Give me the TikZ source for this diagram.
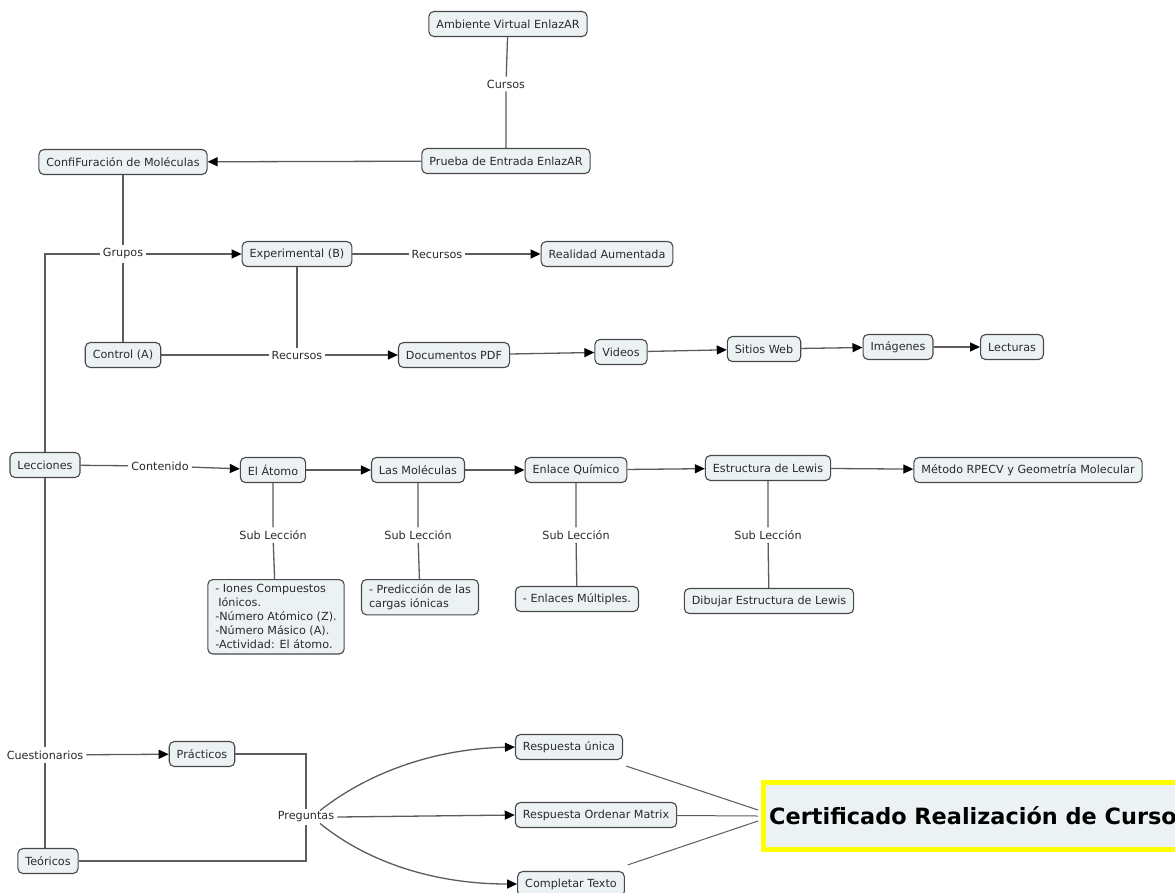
\documentclass[tikz,border=0pt]{standalone}
\usepackage{fontspec}
\setmainfont{DejaVu Sans}
\usetikzlibrary{arrows.meta,calc}
\definecolor{nodefill}{HTML}{ECF2F4}
\definecolor{nodeborder}{HTML}{484848}
\definecolor{linec}{HTML}{5C5C5C}
\definecolor{txt}{HTML}{2A2A2A}
\definecolor{certyellow}{HTML}{FFFF00}
\tikzset{
  concept/.style={draw=nodeborder, fill=nodefill, rounded corners=5pt, line width=1.1pt,
    inner xsep=7.5pt, inner ysep=0pt, minimum height=25pt, text=txt,
    font=\fontsize{11.2}{14}\selectfont},
  multi/.style={concept, align=left, inner ysep=5pt, minimum height=0pt},
  lbl/.style={inner sep=3pt, text=txt, font=\fontsize{11.2}{14}\selectfont},
  conn/.style={draw=linec, line width=1.3pt},
  arr/.style={conn, -{Triangle[length=10pt,width=9pt,color=black]}},
}
\begin{document}
\begin{tikzpicture}[x=1pt,y=-1pt]
\useasboundingbox (0,0) rectangle (1175,892);
\clip (0,0) rectangle (1175,892);
\fill[white] (0,0) rectangle (1175,892);

% top
\node[concept] (amb) at (508,24) {Ambiente Virtual EnlazAR};
\node[lbl] (cursos) at (506,84) {Cursos};
\node[concept] (prueba) at (506,161) {Prueba de Entrada EnlazAR};
\node[concept] (confi) at (123,162) {ConfiFuración de Moléculas};

% groups
\node[lbl] (grupos) at (123,254) {Grupos};
\node[concept] (exper) at (297,254) {Experimental (B)};
\node[lbl] (rec1) at (437,254) {Recursos};
\node[concept] (real) at (607,254) {Realidad Aumentada};
\node[concept] (control) at (123,355) {Control (A)};
\node[lbl] (rec2) at (297,355) {Recursos};
\node[concept] (docs) at (454,355) {Documentos PDF};
\node[concept] (videos) at (621,352) {Videos};
\node[concept] (sitios) at (764,349) {Sitios Web};
\node[concept] (imag) at (898,347) {Imágenes};
\node[concept] (lect) at (1012,347) {Lecturas};

% lessons
\node[concept] (lecc) at (45,465) {Lecciones};
\node[lbl] (cont) at (160,466) {Contenido};
\node[concept] (atomo) at (273,470) {El Átomo};
\node[concept] (molec) at (418,470) {Las Moléculas};
\node[concept] (enlace) at (576,470) {Enlace Químico};
\node[concept] (estr) at (768,468) {Estructura de Lewis};
\node[concept] (metodo) at (1028,470) {Método RPECV y Geometría Molecular};

\node[lbl] (sub1) at (273,535) {Sub Lección};
\node[lbl] (sub2) at (418,535) {Sub Lección};
\node[lbl] (sub3) at (576,535) {Sub Lección};
\node[lbl] (sub4) at (768,535) {Sub Lección};

\node[multi, anchor=north] (iones) at (276,579) {- Iones Compuestos\\\hspace*{3pt}Iónicos.\\-Número Atómico (Z).\\-Número Másico (A).\\-Actividad: El átomo.};
\node[multi, anchor=north] (pred) at (420,579) {- Predicción de las\\cargas iónicas};
\node[concept] (mult) at (577,599) {- Enlaces Múltiples.};
\node[concept] (dib) at (769,601) {Dibujar Estructura de Lewis};

% questionnaires
\node[lbl] (cuest) at (45,755) {Cuestionarios};
\node[concept] (pract) at (202,754) {Prácticos};
\node[concept] (teor) at (48,861) {Teóricos};
\node[lbl] (preg) at (306,817) {Preguntas};
\node[concept] (runica) at (569,747) {Respuesta única};
\node[concept] (rorden) at (596,815) {Respuesta Ordenar Matrix};
\node[concept] (ctexto) at (571,884) {Completar Texto};

% certificate
\node[draw=certyellow, fill=nodefill, line width=5pt, anchor=west, minimum height=67pt,
      minimum width=450pt, inner sep=0pt] (cert) at (760.5,816) {};
\node[anchor=west, inner sep=0pt, text=black, font=\fontsize{22.4}{26}\bfseries\selectfont] (certtxt) at (769,816) {Certificado Realización de Curso};
\coordinate (cw1) at ($(cert.west)+(-2.5,-6)$);
\coordinate (cw2) at ($(cert.west)+(-2.5,0)$);
\coordinate (cw3) at ($(cert.west)+(-2.5,5)$);

% connectors top
\draw[conn] (amb) -- (cursos) -- (prueba);
\draw[arr] (prueba) -- (confi);
\draw[conn] (confi) -- (grupos) -- (control);
\draw[arr] (grupos) -- (exper);
\draw[conn] (grupos.west) -| (lecc.north);
\draw[conn] (exper) -- (rec1);
\draw[arr] (rec1) -- (real);
\draw[conn] (exper) -- (rec2);
\draw[conn] (control) -- (rec2);
\draw[arr] (rec2) -- (docs);
\draw[arr] (docs) -- (videos);
\draw[arr] (videos) -- (sitios);
\draw[arr] (sitios) -- (imag);
\draw[arr] (imag) -- (lect);

% connectors lessons
\draw[conn] (lecc) -- (cont);
\draw[arr] (cont) -- (atomo);
\draw[arr] (atomo) -- (molec);
\draw[arr] (molec) -- (enlace);
\draw[arr] (enlace) -- (estr);
\draw[arr] (estr) -- (metodo);
\draw[conn] (atomo) -- (sub1) -- (iones);
\draw[conn] (molec) -- (sub2) -- (pred);
\draw[conn] (enlace) -- (sub3) -- (mult);
\draw[conn] (estr) -- (sub4) -- (dib);

% connectors questionnaires
\draw[conn] (lecc.south) -- (cuest.north);
\draw[conn] (cuest.south) -- (cuest.south |- teor.north);
\draw[arr] (cuest) -- (pract);
\draw[conn] (pract.east) -| (preg.north);
\draw[conn] (teor.east) -| (preg.south);
\draw[arr] ($(preg.north)+(14,2)$) .. controls (365,775) and (430,749) .. (runica.west);
\draw[arr] (preg.east) -- (rorden.west);
\draw[arr] ($(preg.south)+(14,-2)$) .. controls (365,860) and (430,884) .. (ctexto.west);
\draw[conn, line width=1pt, shorten <=19pt] (runica) -- (cw1);
\draw[conn, line width=1pt] (rorden) -- (cw2);
\draw[conn, line width=1pt, shorten <=19pt] (ctexto) -- (cw3);
\end{tikzpicture}
\end{document}
